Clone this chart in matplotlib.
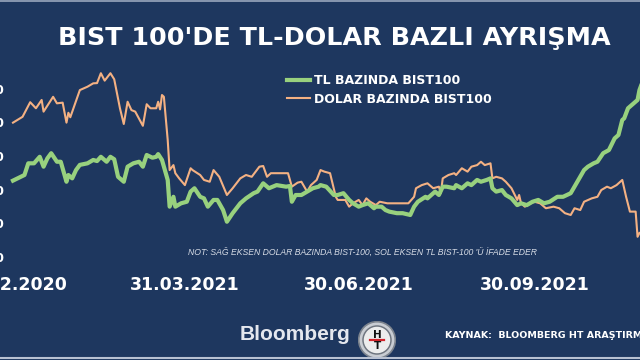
import matplotlib
matplotlib.use("Agg")
import matplotlib.pyplot as plt
import matplotlib.dates as mdates
from matplotlib.patches import Circle
from matplotlib.lines import Line2D
import pandas as pd
import datetime as dt

# ---------------- data ----------------
tl_dates = [
    "2020-12-31",
    "2021-01-04", "2021-01-06", "2021-01-08", "2021-01-11", "2021-01-14", "2021-01-16",
    "2021-01-18", "2021-01-20", "2021-01-23", "2021-01-25", "2021-01-28", "2021-01-29", "2021-01-31",
    "2021-02-02", "2021-02-04", "2021-02-08", "2021-02-11", "2021-02-13", "2021-02-15",
    "2021-02-18", "2021-02-20", "2021-02-22", "2021-02-24", "2021-02-27",
    "2021-03-01", "2021-03-04", "2021-03-07", "2021-03-09", "2021-03-11", "2021-03-14",
    "2021-03-16", "2021-03-17", "2021-03-19", "2021-03-22", "2021-03-23", "2021-03-25",
    "2021-03-26", "2021-03-29",
    "2021-04-01", "2021-04-03", "2021-04-05", "2021-04-08", "2021-04-10", "2021-04-12",
    "2021-04-15", "2021-04-17", "2021-04-20", "2021-04-22", "2021-04-25", "2021-04-29",
    "2021-05-02", "2021-05-06", "2021-05-08", "2021-05-11", "2021-05-14", "2021-05-18",
    "2021-05-23", "2021-05-25", "2021-05-26", "2021-05-28", "2021-05-31",
    "2021-06-03", "2021-06-06", "2021-06-09", "2021-06-10", "2021-06-13", "2021-06-17",
    "2021-06-19", "2021-06-22", "2021-06-25", "2021-06-27", "2021-06-30",
    "2021-07-02", "2021-07-05", "2021-07-08", "2021-07-09", "2021-07-12", "2021-07-14",
    "2021-07-16", "2021-07-20", "2021-07-23", "2021-07-27", "2021-07-29", "2021-07-31",
    "2021-08-04", "2021-08-05", "2021-08-09", "2021-08-11", "2021-08-13", "2021-08-15",
    "2021-08-19", "2021-08-20", "2021-08-23", "2021-08-26", "2021-08-28", "2021-08-31",
    "2021-09-02", "2021-09-05", "2021-09-07", "2021-09-08", "2021-09-10", "2021-09-13",
    "2021-09-15", "2021-09-18", "2021-09-21", "2021-09-23", "2021-09-26", "2021-09-29",
    "2021-10-02", "2021-10-05", "2021-10-08", "2021-10-12", "2021-10-15", "2021-10-19",
    "2021-10-22", "2021-10-26", "2021-10-28", "2021-10-31",
    "2021-11-02", "2021-11-05", "2021-11-08", "2021-11-11", "2021-11-13", "2021-11-15",
    "2021-11-16", "2021-11-18", "2021-11-21", "2021-11-23", "2021-11-24", "2021-11-25",
]
tl_values = [
    1490,
    1507, 1515, 1567, 1567, 1596, 1552,
    1589, 1612, 1574, 1574, 1485, 1515, 1500,
    1537, 1560, 1567, 1582, 1577, 1596,
    1574, 1596, 1585, 1507, 1485,
    1552, 1567, 1574, 1552, 1604, 1592,
    1596, 1608, 1582, 1493, 1374, 1418,
    1374, 1389,
    1396, 1441, 1456, 1418, 1411, 1374,
    1404, 1404, 1359, 1307, 1345, 1389,
    1411, 1434, 1441, 1478, 1456, 1470,
    1463, 1466, 1396, 1426, 1426,
    1441, 1456, 1463, 1470, 1463, 1426,
    1426, 1434, 1404, 1389, 1374,
    1381, 1389, 1367, 1374, 1374, 1359,
    1352, 1345, 1345, 1337, 1374, 1396,
    1418, 1411, 1441, 1426, 1463, 1463,
    1456, 1470, 1456, 1478, 1470, 1493,
    1485, 1493, 1500, 1456, 1441, 1448,
    1426, 1411, 1381, 1389, 1381, 1396,
    1404, 1389, 1396, 1418, 1418, 1434,
    1478, 1537, 1552, 1567,
    1574, 1612, 1626, 1678, 1693, 1760,
    1767, 1812, 1834, 1849, 1893, 1916,
]

usd_dates = [
    "2020-12-31",
    "2021-01-05", "2021-01-09", "2021-01-12", "2021-01-15", "2021-01-16", "2021-01-21",
    "2021-01-23", "2021-01-26", "2021-01-28", "2021-01-29", "2021-01-30",
    "2021-02-04", "2021-02-08", "2021-02-11", "2021-02-13", "2021-02-15", "2021-02-17",
    "2021-02-20", "2021-02-22", "2021-02-25", "2021-02-27",
    "2021-03-01", "2021-03-03", "2021-03-05", "2021-03-09", "2021-03-11", "2021-03-13",
    "2021-03-16", "2021-03-17", "2021-03-18", "2021-03-19", "2021-03-20", "2021-03-22",
    "2021-03-23", "2021-03-25", "2021-03-26", "2021-03-28", "2021-03-31",
    "2021-04-03", "2021-04-04", "2021-04-08", "2021-04-10", "2021-04-13", "2021-04-15",
    "2021-04-18", "2021-04-22", "2021-04-25", "2021-04-29",
    "2021-05-02", "2021-05-05", "2021-05-09", "2021-05-11", "2021-05-13", "2021-05-15",
    "2021-05-20", "2021-05-24", "2021-05-26", "2021-05-29", "2021-05-31",
    "2021-06-03", "2021-06-05", "2021-06-08", "2021-06-10", "2021-06-12", "2021-06-15",
    "2021-06-18", "2021-06-19", "2021-06-23", "2021-06-25", "2021-06-27", "2021-06-30",
    "2021-07-02", "2021-07-04", "2021-07-06", "2021-07-09", "2021-07-11", "2021-07-15",
    "2021-07-22", "2021-07-26", "2021-07-29", "2021-07-30",
    "2021-08-02", "2021-08-05", "2021-08-08", "2021-08-11", "2021-08-12", "2021-08-13",
    "2021-08-16", "2021-08-19", "2021-08-20", "2021-08-23", "2021-08-26", "2021-08-28",
    "2021-08-31",
    "2021-09-02", "2021-09-04", "2021-09-07", "2021-09-08", "2021-09-10", "2021-09-13",
    "2021-09-15", "2021-09-18", "2021-09-21", "2021-09-22", "2021-09-23", "2021-09-25",
    "2021-09-28", "2021-09-30",
    "2021-10-03", "2021-10-06", "2021-10-10", "2021-10-13", "2021-10-16", "2021-10-19",
    "2021-10-21", "2021-10-24", "2021-10-26", "2021-10-30",
    "2021-11-02", "2021-11-04", "2021-11-07", "2021-11-09", "2021-11-12", "2021-11-15",
    "2021-11-17", "2021-11-19", "2021-11-22", "2021-11-23", "2021-11-24",
]
usd_values = [
    199.8,
    202.4, 208.9, 206.2, 209.9, 204.7, 211.3,
    208.4, 208.7, 199.8, 204.2, 202.2,
    214.3, 215.8, 217.3, 217.4, 221.8, 218.5,
    221.8, 219.1, 206.2, 199.2,
    209.1, 205.4, 204.7, 198.4, 208.0, 206.2,
    206.2, 209.1, 205.7, 212.1, 211.3, 192.1,
    178.7, 180.9, 177.3, 175.0, 172.0,
    179.5, 178.7, 176.5, 174.3, 173.5, 178.7,
    175.7, 167.6, 170.6, 175.0,
    176.5, 175.7, 180.2, 180.5, 175.7, 177.3,
    177.3, 177.3, 171.3, 173.1, 173.5,
    169.1, 172.0, 174.3, 178.7, 178.0, 177.3,
    166.8, 165.4, 165.4, 162.4, 163.9, 165.4,
    163.1, 166.1, 164.6, 163.1, 164.6, 163.9,
    163.9, 163.9, 166.8, 170.6,
    172.0, 172.8, 170.6, 171.3, 168.4, 175.0,
    176.5, 177.3, 176.5, 179.5, 178.0, 180.2,
    180.9,
    182.4, 180.9, 181.7, 175.0, 175.7, 175.0,
    173.5, 170.6, 165.4, 167.6, 163.9, 162.4,
    163.9, 164.6,
    163.9, 161.7, 162.4, 161.7, 159.5, 158.7,
    161.7, 160.9, 164.6, 166.1,
    166.8, 169.8, 171.3, 170.6, 172.0, 174.3,
    166.8, 160.2, 160.2, 149.0, 150.7,
]

tick_dates = ["2020-12-31", "2021-03-31", "2021-06-30", "2021-09-30"]
tick_labels = ["31.12.2020", "31.03.2021", "30.06.2021", "30.09.2021"]
left_ticks = [1150, 1300, 1450, 1600, 1750, 1900]

title = "BIST 100'DE TL-DOLAR BAZLI AYRIŞMA"
label_tl = "TL BAZINDA BIST100"
label_usd = "DOLAR BAZINDA BIST100"
note = "NOT: SAĞ EKSEN DOLAR BAZINDA BIST-100, SOL EKSEN TL BIST-100 'Ü İFADE EDER"
source = "KAYNAK:  BLOOMBERG HT ARAŞTIRMA"

# ---------------- style ----------------
BG = "#1e375f"
GREEN = "#98d17e"
ORANGE = "#f4b183"
W, H = 640, 360

fig = plt.figure(figsize=(6.4, 3.6), dpi=100, facecolor=BG)

def fx(px):
    return px / W

def fy(py):
    return 1 - py / H

ax_left, ax_right_px, ax_top, ax_bot = 10, 645, 55, 257
ax = fig.add_axes([fx(ax_left), fy(ax_bot), (ax_right_px - ax_left) / W, (ax_bot - ax_top) / H])
ax.set_facecolor("none")
ax2 = ax.twinx()
ax2.set_facecolor("none")

td = pd.to_datetime(tl_dates)
ud = pd.to_datetime(usd_dates)

l2, = ax2.plot(ud, usd_values, color=ORANGE, lw=1.5, solid_joinstyle="round", zorder=2)
l1, = ax.plot(td, tl_values, color=GREEN, lw=3.0, solid_joinstyle="round", zorder=3)
ax.set_zorder(ax2.get_zorder() + 1)

base = mdates.date2num(dt.datetime(2020, 12, 31))
ax.set_xlim(base - 1.57, base + 330.9)

ax.set_ylim(1150, 1150 + 202 * 150 / 33.7)
ax2.set_ylim(140, 140 + 202 * 15 / 33.7)

ax.set_yticks(left_ticks)
ax.tick_params(axis="y", length=0, pad=4, labelcolor="white", labelsize=9)
for t in ax.get_yticklabels():
    t.set_fontweight("bold")
ax2.set_yticks([])

ax.set_xticks(pd.to_datetime(tick_dates))
ax.set_xticklabels(tick_labels, fontsize=12.5, fontweight="bold", color="white")
ax.tick_params(axis="x", length=0, pad=14)

for a in (ax, ax2):
    for s in a.spines.values():
        s.set_visible(False)

# legend
leg = ax.legend([l1, l2], [label_tl, label_usd], loc="upper left",
                bbox_to_anchor=(fx(287), fy(74)), bbox_transform=fig.transFigure,
                frameon=False, fontsize=9, handlelength=1.85, handletextpad=0.3,
                labelspacing=0.45, borderpad=0, borderaxespad=0)
for t in leg.get_texts():
    t.set_color("white")
    t.set_fontweight("bold")

# title
fig.text(fx(334), fy(38), title, ha="center", va="center", color="white",
         fontsize=18.3, fontweight="bold", family="DejaVu Sans")

# note
fig.text(fx(362), fy(252), note, ha="center", va="center", color="#d7dce6",
         fontsize=6.25, fontstyle="italic", family="Liberation Sans")

# footer
fig.text(fx(240), fy(334), "Bloomberg", ha="left", va="center", color="#e4e7ee",
         fontsize=15, fontweight="bold", family="Liberation Sans")
fig.text(fx(445), fy(336), source, ha="left", va="center", color="white",
         fontsize=6.8, fontweight="bold", family="DejaVu Sans")

# HT logo
lg = fig.add_axes([fx(377 - 19), fy(340 + 19), 38 / W, 38 / H])
lg.set_xlim(-1, 1)
lg.set_ylim(-1, 1)
lg.set_aspect("equal")
lg.axis("off")
lg.add_patch(Circle((0, 0), 0.97, color="#7d848e"))
lg.add_patch(Circle((0, 0), 0.88, color="#c9cdd3"))
lg.add_patch(Circle((0, 0), 0.74, color="#6f7680"))
lg.add_patch(Circle((0, 0), 0.66, color="#eceded"))
lg.text(0, 0.28, "H", ha="center", va="center", fontsize=7.5, fontweight="bold", color="#111111")
lg.text(0, -0.33, "T", ha="center", va="center", fontsize=7.5, fontweight="bold", color="#111111")
lg.plot([-0.35, 0.35], [-0.02, -0.02], color="#d2232a", lw=1.6)

# borders
fig.add_artist(Line2D([0, 1], [fy(0.6), fy(0.6)], transform=fig.transFigure, color="#9aa7bd", lw=1.2))
fig.add_artist(Line2D([0, 1], [fy(358), fy(358)], transform=fig.transFigure, color="#b8c1d2", lw=1.5))

fig.savefig("out.png", dpi=100, facecolor=BG)
